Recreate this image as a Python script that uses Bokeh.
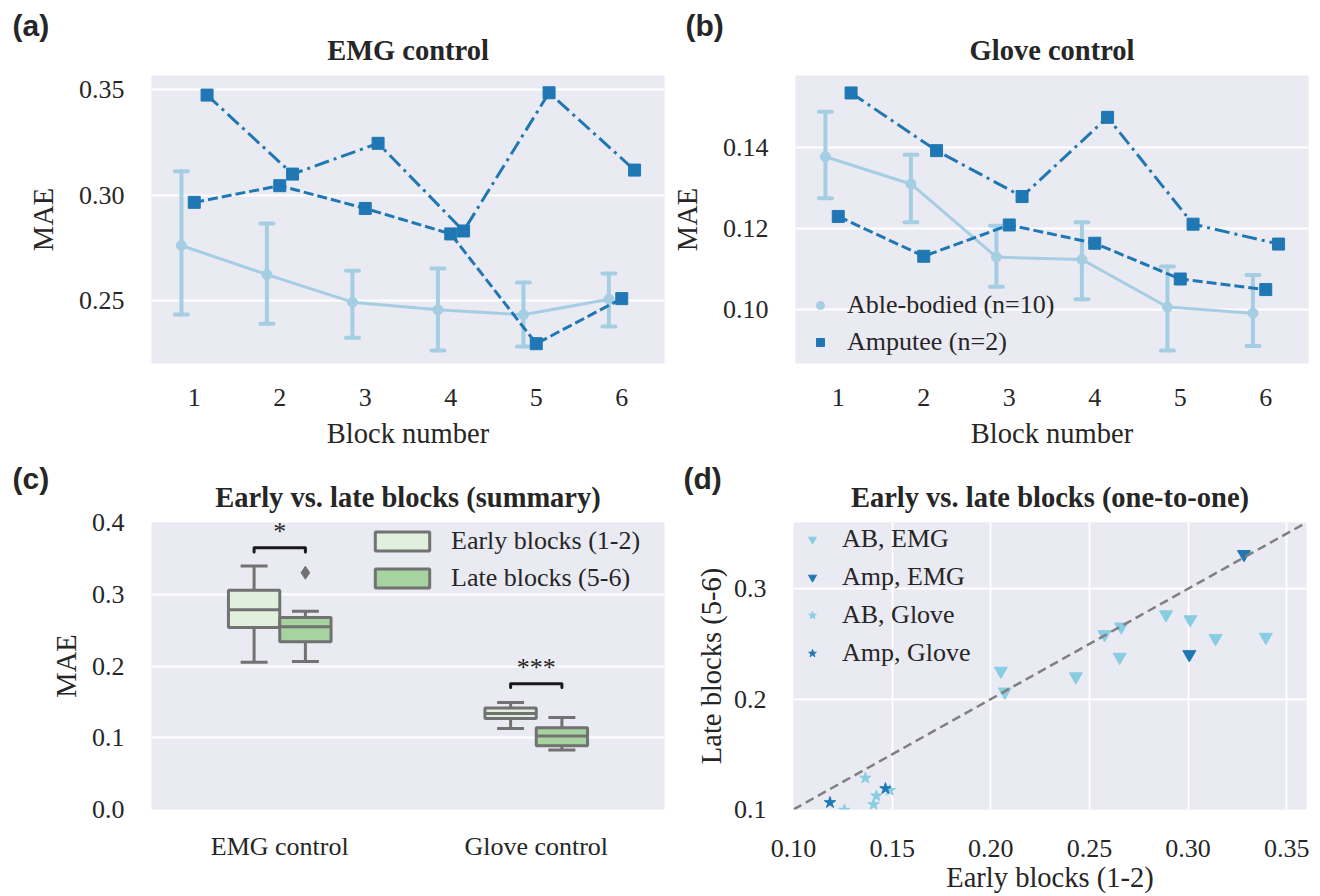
from bokeh.plotting import figure
from bokeh.layouts import column, row
from bokeh.models import (Legend, LegendItem, Label, FixedTicker, NumeralTickFormatter, Range1d)
from bokeh.embed import file_html
from bokeh.resources import INLINE
from bokeh.core.properties import value

# ---------------- data ----------------
blocks = [1, 2, 3, 4, 5, 6]

# (a) EMG control
emg_ab_mean = [0.2761, 0.2623, 0.2492, 0.2456, 0.2432, 0.2506]
emg_ab_lo = [0.2434, 0.2390, 0.2323, 0.2263, 0.2282, 0.2377]
emg_ab_hi = [0.3113, 0.2866, 0.2641, 0.2652, 0.2585, 0.2628]
emg_amp1 = [0.2966, 0.3045, 0.2937, 0.2816, 0.2295, 0.2509]
emg_amp2 = [0.3475, 0.3100, 0.3246, 0.2830, 0.3486, 0.3119]

# (b) Glove control
glove_ab_mean = [0.1377, 0.1310, 0.1130, 0.1124, 0.1007, 0.0992]
glove_ab_lo = [0.1275, 0.1216, 0.1057, 0.1026, 0.0900, 0.0911]
glove_ab_hi = [0.1488, 0.1382, 0.1207, 0.1216, 0.1107, 0.1086]
glove_amp1 = [0.1230, 0.1132, 0.1209, 0.1164, 0.1076, 0.1050]
glove_amp2 = [0.1534, 0.1392, 0.1279, 0.1474, 0.1211, 0.1162]

# (c) box summaries
box_groups = ["EMG control", "Glove control"]
early_whislo = [0.2053, 0.1129]
early_q1 = [0.2538, 0.1268]
early_med = [0.2783, 0.1337]
early_q3 = [0.3055, 0.1416]
early_whishi = [0.3393, 0.1490]
late_whislo = [0.2062, 0.0829]
late_q1 = [0.2339, 0.0889]
late_med = [0.2547, 0.1025]
late_q3 = [0.2677, 0.1139]
late_whishi = [0.2764, 0.1282]
late_outlier_group = [0]
late_outlier_val = [0.330]
sig_labels = ["*", "***"]
sig_top = [0.3647, 0.1753]
sig_drop = [0.3590, 0.1700]

# (d) one-to-one
ab_emg_early = [0.2051, 0.2071, 0.2431, 0.2576, 0.2661, 0.2653, 0.2888, 0.3011, 0.3139, 0.3394]
ab_emg_late = [0.2255, 0.2066, 0.2204, 0.2586, 0.2655, 0.2381, 0.2766, 0.2721, 0.2550, 0.2562]
amp_emg_early = [0.3283, 0.3006]
amp_emg_late = [0.3312, 0.2405]
ab_glove_early = [0.1364, 0.1420, 0.1406, 0.1488, 0.1258]
ab_glove_late = [0.1285, 0.1123, 0.1045, 0.1174, 0.0994]
amp_glove_early = [0.1185, 0.1466]
amp_glove_late = [0.1063, 0.1189]
diag_limits = [0.10, 0.36]

# ---------------- style ----------------
SERIF = "Liberation Serif"
SANS = "Liberation Sans"
TXT = "#262626"
BG = "#EAEAF2"
AB = "#a6cee3"
AMP = "#1f78b4"
LIGHT = "#89cde3"
DARK = "#1f77b4"
BOXLINE = "#727272"
EARLY_FILL = "#e1f0dd"
LATE_FILL = "#a6d3a0"
TICK_FS = "26px"
LAB_FS = "28.5px"
FW = 513


def make_fig(xr, yr, bl, br, bt, bb, fh):
    p = figure(x_range=xr, y_range=yr, frame_width=FW, frame_height=fh,
               min_border_left=bl, min_border_right=br, min_border_top=bt,
               min_border_bottom=bb, output_backend="svg", toolbar_location=None,
               background_fill_color=BG, border_fill_color="white")
    p.outline_line_color = None
    for ax in p.axis:
        ax.axis_line_color = None
        ax.major_tick_line_color = None
        ax.minor_tick_line_color = None
        ax.major_tick_out = 0
        ax.major_tick_in = 0
        ax.major_label_text_font = SERIF
        ax.major_label_text_font_size = TICK_FS
        ax.major_label_text_color = TXT
        ax.axis_label_text_font = SERIF
        ax.axis_label_text_font_size = LAB_FS
        ax.axis_label_text_font_style = "normal"
        ax.axis_label_text_color = TXT
    p.grid.grid_line_color = "white"
    p.grid.grid_line_width = 2
    return p


def add_headings(p, title, letter, letter_dx, title_y, letter_y):
    # heading text placed in the panel above the frame (first added = nearest the frame)
    p.add_layout(Label(x=FW / 2, y=title_y, x_units="screen", y_units="screen", text=title,
                       text_font=SERIF, text_font_style="bold", text_font_size=LAB_FS,
                       text_color=TXT, text_align="center", text_baseline="alphabetic"), "above")
    p.add_layout(Label(x=letter_dx, y=letter_y, x_units="screen", y_units="screen", text=letter,
                       text_font=SANS, text_font_style="bold", text_font_size="30px",
                       text_color=TXT, text_align="left", text_baseline="alphabetic"), "above")


def line_panel(mean, lo, hi, amp1, amp2, yr, yticks, fmt, bl, br, legend):
    p = make_fig(Range1d(0.5, 6.5), Range1d(*yr), bl, br, 75, 89, 288)
    p.xaxis.ticker = FixedTicker(ticks=blocks)
    p.yaxis.ticker = FixedTicker(ticks=yticks)
    p.yaxis.formatter = NumeralTickFormatter(format=fmt)
    p.xgrid.visible = False
    p.xaxis.axis_label = "Block number"
    p.yaxis.axis_label = "MAE"
    p.xaxis.major_label_standoff = 25
    p.xaxis.axis_label_standoff = 9
    p.yaxis.major_label_standoff = 27
    p.yaxis.axis_label_standoff = 17
    xab = [b - 0.15 for b in blocks]
    x1 = [b + 0.0 for b in blocks]
    x2 = [b + 0.15 for b in blocks]
    p.segment(x0=xab, y0=lo, x1=xab, y1=hi, line_color=AB, line_width=4, line_cap="round")
    p.scatter(x=xab, y=lo, marker="dash", size=13, line_color=AB, line_width=4, line_cap="round")
    p.scatter(x=xab, y=hi, marker="dash", size=13, line_color=AB, line_width=4, line_cap="round")
    p.line(x=xab, y=mean, line_color=AB, line_width=3)
    r_ab = p.scatter(x=xab, y=mean, marker="circle", size=10, fill_color=AB, line_color=AB)
    p.line(x=x1, y=amp1, line_color=AMP, line_width=3, line_dash="10 4")
    r_amp = p.scatter(x=x1, y=amp1, marker="square", size=12, fill_color=AMP, line_color=AMP)
    p.line(x=x2, y=amp2, line_color=AMP, line_width=3, line_dash="15 5 3 5")
    p.scatter(x=x2, y=amp2, marker="square", size=12, fill_color=AMP, line_color=AMP)
    if legend:
        lg = Legend(items=[LegendItem(label="Able-bodied (n=10)", renderers=[r_ab]),
                           LegendItem(label="Amputee (n=2)", renderers=[r_amp])],
                    location=(15, 6), padding=0, spacing=7, label_standoff=17,
                    glyph_width=20, glyph_height=20, background_fill_alpha=0,
                    border_line_alpha=0, label_text_font=SERIF,
                    label_text_font_size=TICK_FS, label_text_color=TXT)
        p.add_layout(lg)
    return p


TITLE_Y1, LETTER_Y1 = 25, 19
TITLE_Y2, LETTER_Y2 = 25, 13

pa = line_panel(emg_ab_mean, emg_ab_lo, emg_ab_hi, emg_amp1, emg_amp2,
                (0.2201, 0.3568), [0.25, 0.30, 0.35], "0.00", 151, 4, False)
add_headings(pa, "EMG control", "(a)", -139, TITLE_Y1, LETTER_Y1)

pb = line_panel(glove_ab_mean, glove_ab_lo, glove_ab_hi, glove_amp1, glove_amp2,
                (0.0868, 0.1577), [0.10, 0.12, 0.14], "0.00", 125, 8, True)
add_headings(pb, "Glove control", "(b)", -110, TITLE_Y1, LETTER_Y1)

# ---------------- (c) box plot ----------------
pc = make_fig(Range1d(-0.5, 1.5), Range1d(0.0, 0.4), 151, 4, 70, 86, 287)
pc.xgrid.visible = False
pc.xaxis.ticker = FixedTicker(ticks=[0, 1])
pc.xaxis.major_label_overrides = {0: box_groups[0], 1: box_groups[1]}
pc.yaxis.ticker = FixedTicker(ticks=[0.0, 0.1, 0.2, 0.3, 0.4])
pc.yaxis.formatter = NumeralTickFormatter(format="0.0")
pc.yaxis.axis_label = "MAE"
pc.xaxis.major_label_standoff = 22
pc.yaxis.major_label_standoff = 27
pc.yaxis.axis_label_standoff = 7

gpos = [0, 1]
boxw = 0.2
capw = 0.105
legend_renderers = []
for off, wl, q1, md, q3, wh, fill in [
        (-0.1, early_whislo, early_q1, early_med, early_q3, early_whishi, EARLY_FILL),
        (0.1, late_whislo, late_q1, late_med, late_q3, late_whishi, LATE_FILL)]:
    xc = [g + off for g in gpos]
    pc.segment(x0=xc, y0=q3, x1=xc, y1=wh, line_color=BOXLINE, line_width=3)
    pc.segment(x0=xc, y0=wl, x1=xc, y1=q1, line_color=BOXLINE, line_width=3)
    pc.segment(x0=[x - capw / 2 for x in xc], y0=wh, x1=[x + capw / 2 for x in xc], y1=wh,
               line_color=BOXLINE, line_width=3)
    pc.segment(x0=[x - capw / 2 for x in xc], y0=wl, x1=[x + capw / 2 for x in xc], y1=wl,
               line_color=BOXLINE, line_width=3)
    r = pc.quad(left=[x - boxw / 2 for x in xc], right=[x + boxw / 2 for x in xc],
                bottom=q1, top=q3, fill_color=fill, line_color=BOXLINE, line_width=3)
    legend_renderers.append(r)
    pc.segment(x0=[x - boxw / 2 for x in xc], y0=md, x1=[x + boxw / 2 for x in xc], y1=md,
               line_color=BOXLINE, line_width=3)

pc.scatter(x=[g + 0.1 for g in late_outlier_group], y=late_outlier_val, marker="diamond",
           size=13, fill_color=BOXLINE, line_color=BOXLINE)

for g, top, drop in zip(gpos, sig_top, sig_drop):
    pc.line(x=[g - 0.1, g - 0.1, g + 0.1, g + 0.1], y=[drop, top, top, drop],
            line_color="#1a1a1a", line_width=3, line_cap="round", line_join="round")
pc.text(x=gpos, y=sig_top, text=sig_labels, text_align="center", text_baseline="bottom",
        text_font=value(SERIF), text_font_size="26px", text_color=TXT, y_offset=-2)

lgc = Legend(items=[LegendItem(label="Early blocks (1-2)", renderers=[legend_renderers[0]]),
                    LegendItem(label="Late blocks (5-6)", renderers=[legend_renderers[1]])],
             location=(217, 216), padding=0, spacing=7, label_standoff=15,
             glyph_width=68, glyph_height=24, background_fill_alpha=0, border_line_alpha=0,
             label_text_font=SERIF, label_text_font_size=TICK_FS, label_text_color=TXT)
pc.add_layout(lgc)
add_headings(pc, "Early vs. late blocks (summary)", "(c)", -139, TITLE_Y2, LETTER_Y2)

# ---------------- (d) scatter ----------------
pd_ = make_fig(Range1d(*diag_limits), Range1d(*diag_limits), 125, 8, 70, 86, 287)
pd_.xaxis.ticker = FixedTicker(ticks=[0.10, 0.15, 0.20, 0.25, 0.30, 0.35])
pd_.xaxis.formatter = NumeralTickFormatter(format="0.00")
pd_.yaxis.ticker = FixedTicker(ticks=[0.1, 0.2, 0.3])
pd_.yaxis.formatter = NumeralTickFormatter(format="0.0")
pd_.xaxis.axis_label = "Early blocks (1-2)"
pd_.yaxis.axis_label = "Late blocks (5-6)"
pd_.xaxis.major_label_standoff = 30
pd_.xaxis.axis_label_standoff = 2
pd_.yaxis.major_label_standoff = 27
pd_.yaxis.axis_label_standoff = 4

r1 = pd_.scatter(x=ab_emg_early, y=ab_emg_late, marker="inverted_triangle", size=13,
                 fill_color=LIGHT, line_color=LIGHT)
r2 = pd_.scatter(x=amp_emg_early, y=amp_emg_late, marker="inverted_triangle", size=13,
                 fill_color=DARK, line_color=DARK)
r3 = pd_.scatter(x=ab_glove_early, y=ab_glove_late, marker="star", size=12,
                 fill_color=LIGHT, line_color=LIGHT)
r4 = pd_.scatter(x=amp_glove_early, y=amp_glove_late, marker="star", size=12,
                 fill_color=DARK, line_color=DARK)
pd_.line(x=diag_limits, y=diag_limits, line_color="#808080", line_width=2.5, line_dash="9 5")
lgd = Legend(items=[LegendItem(label="AB, EMG", renderers=[r1]),
                    LegendItem(label="Amp, EMG", renderers=[r2]),
                    LegendItem(label="AB, Glove", renderers=[r3]),
                    LegendItem(label="Amp, Glove", renderers=[r4])],
             location=(9, 141), padding=0, spacing=8, label_standoff=20,
             glyph_width=20, glyph_height=20, background_fill_alpha=0, border_line_alpha=0,
             label_text_font=SERIF, label_text_font_size=TICK_FS, label_text_color=TXT)
pd_.add_layout(lgd)
add_headings(pd_, "Early vs. late blocks (one-to-one)", "(d)", -110, TITLE_Y2, LETTER_Y2)

layout = column(row(pa, pb), row(pc, pd_))
open("out.html", "w").write(file_html(layout, INLINE))
